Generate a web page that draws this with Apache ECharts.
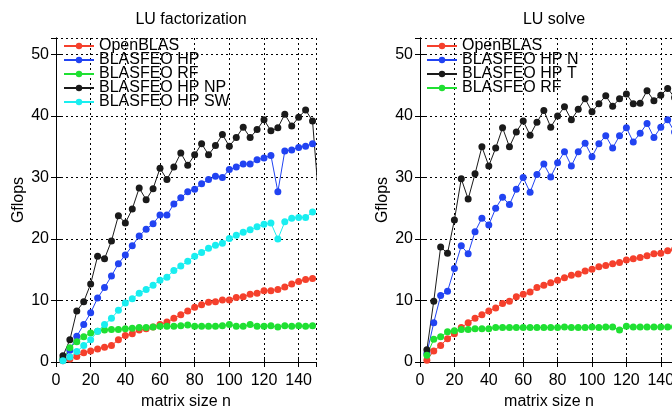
<!DOCTYPE html>
<html>
<head>
<meta charset="utf-8">
<script src="https://cdn.jsdelivr.net/npm/echarts@6/dist/echarts.min.js"></script>
<style>
  html,body{margin:0;padding:0;background:#fff;}
  #main{width:672px;height:406px;}
</style>
</head>
<body>
<div id="main"></div>
<script>
// matrix sizes n
var sizes = [4,8,12,16,20,24,28,32,36,40,44,48,52,56,60,64,68,72,76,80,84,88,92,96,100,
  104,108,112,116,120,124,128,132,136,140,144,148,152];

// LU factorization (Gflops)
var luOpenblas = [0.2,0.5,0.9,1.5,1.8,2.1,2.4,2.7,3.6,4.3,4.6,5.2,5.4,5.7,6.1,6.5,7.1,7.7,8.3,8.9,
  9.3,9.7,9.8,10.1,10.1,10.5,10.6,11.0,11.2,11.6,11.6,11.8,12.2,12.7,13.1,13.4,13.6];
var luHp = [0.4,1.9,4.2,6.1,8.0,10.4,12.1,14.0,16.0,17.4,18.9,20.5,21.6,22.5,23.9,23.9,25.7,26.7,27.7,28.1,
  29.0,29.7,30.2,30.0,31.3,31.7,32.2,32.2,32.9,33.2,33.6,27.7,34.3,34.5,34.9,35.1,35.5];
var luRf = [0.5,2.3,3.3,4.1,4.7,5.0,5.2,5.3,5.3,5.4,5.5,5.6,5.6,5.7,5.8,5.8,5.8,5.9,6.0,5.8,
  5.8,5.8,5.8,5.9,6.1,5.8,5.8,6.1,5.8,5.8,5.9,5.7,5.9,5.8,5.9,5.8,5.9];
var luHpNp = [1.0,3.6,8.3,9.8,12.7,17.2,16.8,19.7,23.8,22.6,24.9,28.3,26.4,28.2,31.5,29.7,31.7,34.0,32.0,33.7,
  35.5,33.7,35.2,37.0,35.1,36.5,38.2,36.5,37.8,39.4,37.6,38.1,40.3,38.4,39.8,41.0,39.2,25.0];
var luHpSw = [0.2,0.8,1.7,2.7,3.6,5.0,6.1,7.1,8.4,9.6,10.3,11.2,11.8,12.5,13.3,13.8,14.9,15.6,16.4,17.2,
  17.8,18.5,19.0,19.3,20.1,20.6,21.1,21.5,22.0,22.4,22.6,20.0,22.8,23.4,23.5,23.5,24.4];

// LU solve (Gflops)
var solveOpenblas = [0.3,1.8,2.7,3.8,4.6,5.6,6.4,7.1,7.7,8.3,8.8,9.5,9.9,10.6,11.0,11.4,12.1,12.5,12.9,13.3,
  13.7,14.1,14.3,14.8,15.1,15.5,15.7,16.0,16.2,16.6,16.8,17.0,17.3,17.6,17.7,18.1,18.3];
var solveHpN = [1.4,6.4,10.8,11.5,15.2,18.9,17.6,21.2,23.4,22.3,25.0,26.8,25.6,28.1,30.0,27.6,30.5,32.2,30.1,32.4,
  34.2,31.9,34.2,35.6,33.4,35.5,36.8,34.8,36.8,38.1,35.8,37.2,38.8,36.5,38.2,39.4,37.4];
var solveHpT = [2.0,9.9,18.7,17.7,23.1,29.8,26.5,30.6,35.0,31.9,34.8,38.1,35.0,37.4,39.2,36.9,39.0,40.9,38.2,40.0,
  41.5,39.4,41.1,42.8,40.7,42.0,43.3,41.6,42.8,43.6,42.0,42.1,44.1,42.5,43.4,44.5,43.0];
var solveRf = [1.1,3.7,4.1,4.9,5.1,5.3,5.3,5.4,5.4,5.4,5.6,5.6,5.6,5.6,5.6,5.6,5.6,5.6,5.6,5.6,
  5.7,5.6,5.6,5.6,5.7,5.6,5.7,5.7,5.2,5.8,5.7,5.7,5.7,5.7,5.7,5.7,5.7];

var xTicks = [0,20,40,60,80,100,120,140];
var yTicks = [0,10,20,30,40,50];

var colRed = '#f5402c', colBlue = '#2143f2', colGreen = '#1fe032', colBlack = '#1a1a1a', colCyan = '#19eef0';
var fontFam = 'Liberation Sans, Arial, sans-serif';

function zip(xs, ys){
  var out = [];
  for (var i = 0; i < ys.length; i++) out.push([xs[i], ys[i]]);
  return out;
}

var chart = echarts.init(document.getElementById('main'));

var xAxes = [], yAxes = [];
function addAxes(g){
  var dotted = {show: true, lineStyle: {color: '#000', width: 1, type: [2, 3]}};
  xAxes.push({
    type: 'value', gridIndex: g, min: 0, max: 150, interval: 20,
    name: 'matrix size n', nameLocation: 'middle', nameGap: 23,
    nameTextStyle: {fontSize: 16, color: '#000', fontFamily: fontFam},
    axisLine: {show: true, lineStyle: {color: '#000', width: 1}},
    axisTick: {show: true, inside: true, length: 5, lineStyle: {color: '#000'}},
    axisLabel: {fontSize: 16, color: '#000', fontFamily: fontFam, margin: 11, showMaxLabel: false,
      formatter: function(v){ return xTicks.indexOf(v) >= 0 ? String(v) : ''; }},
    splitLine: dotted
  });
  xAxes.push({
    type: 'value', gridIndex: g, min: 0, max: 150, interval: 20, position: 'top',
    axisLine: {show: true, lineStyle: {color: '#000', width: 1}},
    axisTick: {show: true, inside: true, length: 5, lineStyle: {color: '#000'}},
    axisLabel: {show: false}, splitLine: {show: false}
  });
  yAxes.push({
    type: 'value', gridIndex: g, min: 0, max: 52.7, interval: 10,
    name: 'Gflops', nameLocation: 'middle', nameGap: 29, nameRotate: 90,
    nameTextStyle: {fontSize: 16, color: '#000', fontFamily: fontFam},
    axisLine: {show: true, lineStyle: {color: '#000', width: 1}},
    axisTick: {show: true, inside: true, length: 5, lineStyle: {color: '#000'}},
    axisLabel: {fontSize: 16, color: '#000', fontFamily: fontFam, margin: 7, showMaxLabel: false,
      formatter: function(v){ return yTicks.indexOf(v) >= 0 ? String(v) : ''; }},
    splitLine: dotted
  });
  yAxes.push({
    type: 'value', gridIndex: g, min: 0, max: 52.7, interval: 10, position: 'right',
    axisLine: {show: true, lineStyle: {color: '#000', width: 1}},
    axisTick: {show: true, inside: true, length: 5, lineStyle: {color: '#000'}},
    axisLabel: {show: false}, splitLine: {show: false}
  });
}
addAxes(0);
addAxes(1);

function line(name, data, color, g){
  return {
    name: name, type: 'line', xAxisIndex: g * 2, yAxisIndex: g * 2,
    data: zip(sizes, data), symbol: 'circle', symbolSize: 7,
    itemStyle: {color: color}, lineStyle: {color: color, width: 1},
    emphasis: {disabled: true}
  };
}

var legendStyle = {
  orient: 'vertical', itemWidth: 30, itemHeight: 8, itemGap: -2,
  padding: 0,
  textStyle: {fontSize: 16, lineHeight: 12, color: '#000', fontFamily: fontFam},
  selectedMode: false
};

chart.setOption({
  animation: false,
  title: [
    {text: 'LU factorization', left: 186, top: 7, textAlign: 'center',
      textStyle: {fontSize: 16, fontWeight: 'normal', color: '#000', fontFamily: fontFam}},
    {text: 'LU solve', left: 549, top: 7, textAlign: 'center',
      textStyle: {fontSize: 16, fontWeight: 'normal', color: '#000', fontFamily: fontFam}}
  ],
  grid: [
    {left: 56, top: 38, width: 260, height: 324, outerBoundsMode: 'none'},
    {left: 420, top: 38, width: 258, height: 324, outerBoundsMode: 'none'}
  ],
  legend: [
    Object.assign({left: 63, top: 38,
      data: ['OpenBLAS', 'BLASFEO HP', 'BLASFEO RF', 'BLASFEO HP NP', 'BLASFEO HP SW']}, legendStyle),
    Object.assign({left: 426, top: 38,
      data: ['OpenBLAS', 'BLASFEO HP N', 'BLASFEO HP T', 'BLASFEO RF']}, legendStyle)
  ],
  xAxis: xAxes,
  yAxis: yAxes,
  series: [
    line('OpenBLAS', luOpenblas, colRed, 0),
    line('BLASFEO HP', luHp, colBlue, 0),
    line('BLASFEO RF', luRf, colGreen, 0),
    line('BLASFEO HP NP', luHpNp, colBlack, 0),
    line('BLASFEO HP SW', luHpSw, colCyan, 0),
    line('OpenBLAS', solveOpenblas, colRed, 1),
    line('BLASFEO HP N', solveHpN, colBlue, 1),
    line('BLASFEO HP T', solveHpT, colBlack, 1),
    line('BLASFEO RF', solveRf, colGreen, 1)
  ]
});
</script>
</body>
</html>
